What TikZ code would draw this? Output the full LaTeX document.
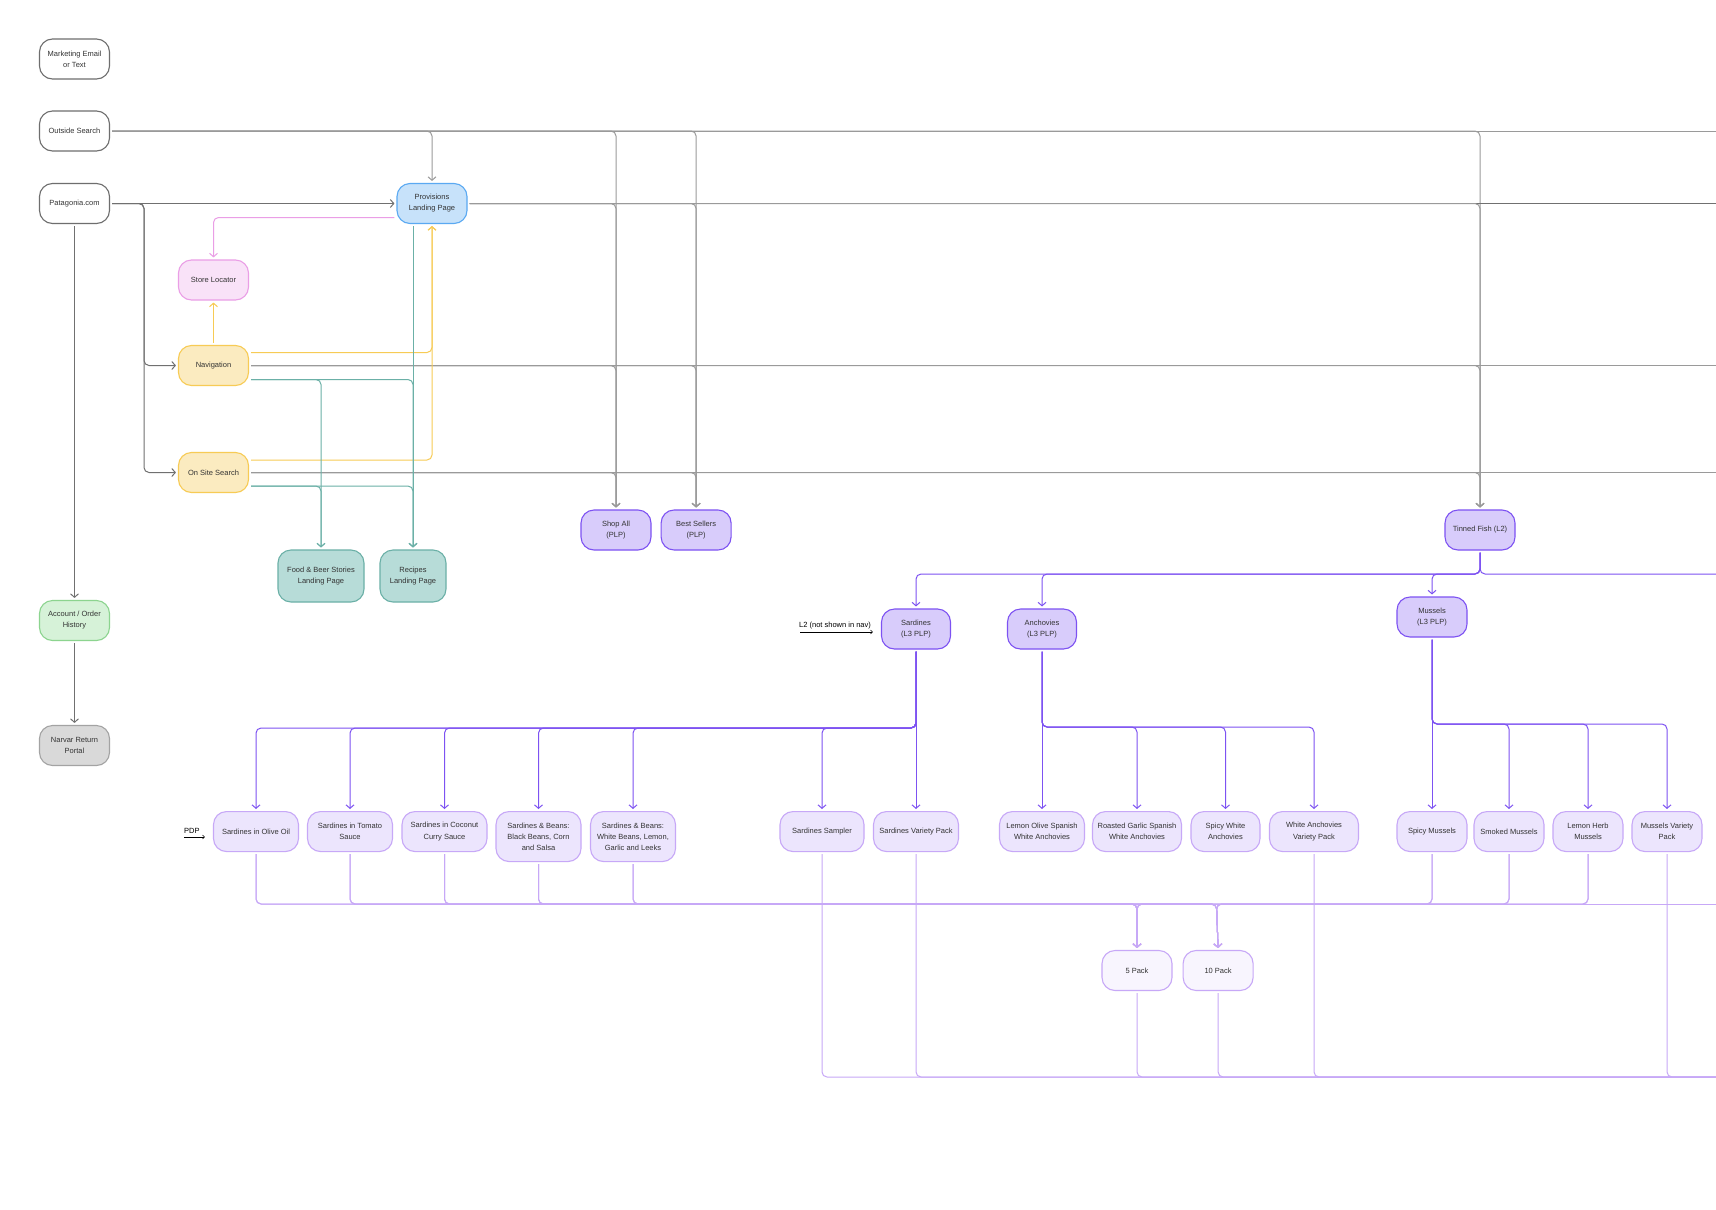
\documentclass[tikz,border=0pt]{standalone}
\usepackage{fontspec}
\setmainfont{Liberation Sans}
\usepackage{tikz}
\usetikzlibrary{positioning, arrows.meta}
\usepackage{xcolor}

\definecolor{ink}{HTML}{333333}
\definecolor{entryline}{HTML}{6E6E6E}
\definecolor{bluefill}{HTML}{C7E2FA}
\definecolor{blueline}{HTML}{5AA9F2}
\definecolor{pinkfill}{HTML}{F9E2F8}
\definecolor{pinkline}{HTML}{EA9EE6}
\definecolor{yelfill}{HTML}{FBEBC0}
\definecolor{yelline}{HTML}{F7CB55}
\definecolor{tealfill}{HTML}{B7DCD8}
\definecolor{tealline}{HTML}{6BB0A7}
\definecolor{greenfill}{HTML}{D6F2D8}
\definecolor{greenline}{HTML}{8CD48F}
\definecolor{greyfill}{HTML}{D9D9D9}
\definecolor{greyline}{HTML}{A3A3A3}
\definecolor{plpfill}{HTML}{D8CCFB}
\definecolor{plpline}{HTML}{7D52F2}
\definecolor{pdpfill}{HTML}{ECE5FD}
\definecolor{pdpline}{HTML}{C7A8F7}
\definecolor{packfill}{HTML}{F8F5FE}
\definecolor{wireg}{HTML}{9A9A9A}
\definecolor{wired}{HTML}{707070}

\begin{document}
\begin{tikzpicture}[
  x=1pt, y=-1pt,
  box/.style={draw, rounded corners=13pt, align=center, minimum width=70pt, minimum height=40pt,
    line width=1.1pt, text=ink, inner sep=2pt, font=\fontsize{7.5}{11}\selectfont},
  entry/.style={box, draw=entryline, fill=white},
  landing/.style={box, draw=blueline, fill=bluefill},
  locator/.style={box, draw=pinkline, fill=pinkfill},
  menu/.style={box, draw=yelline, fill=yelfill},
  story/.style={box, draw=tealline, fill=tealfill, minimum height=52pt},
  account/.style={box, draw=greenline, fill=greenfill},
  returns/.style={box, draw=greyline, fill=greyfill},
  plp/.style={box, draw=plpline, fill=plpfill},
  pdp/.style={box, draw=pdpline, fill=pdpfill, anchor=north, minimum width=85pt},
  pack/.style={box, draw=pdpline, fill=packfill},
  note/.style={text=black, inner sep=0pt, font=\fontsize{7.5}{9}\selectfont},
  link/.style={line width=1pt, rounded corners=5pt, shorten <=2pt},
  arrow/.style={link, -{Straight Barb[length=3.5pt, width=8pt]}, shorten >=2pt},
  gline/.style={link, draw=wireg},
  garrow/.style={arrow, draw=wireg},
  darrow/.style={arrow, draw=wired},
  yarrow/.style={arrow, draw=yelline},
  pkarrow/.style={arrow, draw=pinkline},
  tarrow/.style={arrow, draw=tealline},
  plink/.style={link, draw=plpline},
  parrow/.style={arrow, draw=plpline},
  llink/.style={link, draw=pdpline},
  larrow/.style={arrow, draw=pdpline},
  notearrow/.style={line width=0.6pt, draw=black, -{Straight Barb[length=2pt, width=4pt]}, shorten >=8pt}
]
\fill[white] (0,0) rectangle (1716,1210);
\useasboundingbox (0,0) rectangle (1716,1210);

% entry points
\node[entry] (mkt) at (74.5,59) {Marketing Email\\or Text};
\node[entry] (outside) at (74.5,131) {Outside Search};
\node[entry] (pata) at (74.5,203.5) {Patagonia.com};
\node[account] (acct) at (74.5,620.5) {Account / Order\\History};
\node[returns] (narvar) at (74.5,745.5) {Narvar Return\\Portal};

% provisions level
\node[landing] (prov) at (432,203.5) {Provisions\\Landing Page};
\node[locator] (store) at (213.5,280) {Store Locator};
\node[menu] (nav) at (213.5,365.5) {Navigation};
\node[menu] (search) at (213.5,472.5) {On Site Search};
\node[story, minimum width=86pt] (food) at (321,576) {Food \& Beer Stories\\Landing Page};
\node[story, minimum width=66pt] (recipes) at (413,576) {Recipes\\Landing Page};

% PLP
\node[plp] (shopall) at (616,530) {Shop All\\(PLP)};
\node[plp, right=9pt of shopall] (bestsel) {Best Sellers\\(PLP)};
\node[plp] (tinned) at (1480,530) {Tinned Fish (L2)};
\node[plp, minimum width=69pt] (sard) at (916,629) {Sardines\\(L3 PLP)};
\node[plp, minimum width=69pt] (anch) at (1042,629) {Anchovies\\(L3 PLP)};
\node[plp] (muss) at (1432,617) {Mussels\\(L3 PLP)};

% PDP
\node[pdp] (olive) at (256,811) {Sardines in Olive Oil};
\node[pdp] (tomato) at (350,811) {Sardines in Tomato\\Sauce};
\node[pdp] (coconut) at (444.5,811) {Sardines in Coconut\\Curry Sauce};
\node[pdp, minimum height=50pt] (blackb) at (538.5,811) {Sardines \& Beans:\\Black Beans, Corn\\and Salsa};
\node[pdp, minimum height=50pt] (whiteb) at (633,811) {Sardines \& Beans:\\White Beans, Lemon,\\Garlic and Leeks};
\node[pdp, minimum width=84pt] (sampler) at (822,811) {Sardines Sampler};
\node[pdp] (svp) at (916,811) {Sardines Variety Pack};
\node[pdp] (lemon) at (1042,811) {Lemon Olive Spanish\\White Anchovies};
\node[pdp, minimum width=89pt] (garlic) at (1137,811) {Roasted Garlic Spanish\\White Anchovies};
\node[pdp, minimum width=69pt] (spicyw) at (1225.5,811) {Spicy White\\Anchovies};
\node[pdp, minimum width=89pt] (wavp) at (1314,811) {White Anchovies\\Variety Pack};
\node[pdp, minimum width=70pt] (spicym) at (1432,811) {Spicy Mussels};
\node[pdp, minimum width=70pt] (smoked) at (1509,811) {Smoked Mussels};
\node[pdp, minimum width=70pt] (lemonh) at (1588,811) {Lemon Herb\\Mussels};
\node[pdp, minimum width=70pt] (mvp) at (1667,811) {Mussels Variety\\Pack};
\node[pack] (five) at (1137,970.5) {5 Pack};
\node[pack, right=10pt of five] (ten) {10 Pack};

% side notes
\node[note, anchor=west] (l2note) at (799,625.5) {L2 (not shown in nav)};
\node[note, anchor=west] (pdpnote) at (184,830.5) {PDP};
\coordinate (l2tail) at (800,632);
\coordinate (pdptail) at (184,837);

% bends and edge ends
\coordinate (pataSplit) at (144,203.5);
\coordinate (tfBus) at (1480,574);
\coordinate (sardBus) at (916,728);
\coordinate (anchBus) at (1042,727);
\coordinate (mussBus) at (1432,724);
\coordinate (fiveBus) at (1137,904);
\coordinate (tenBus) at (1216.5,904);
\coordinate (osEdge) at (1716,131);
\coordinate (provEdge) at (1716,203.5);
\coordinate (navEdge) at (1716,365.5);
\coordinate (searchEdge) at (1716,472.5);
\coordinate (tfEdge) at (1716,574);
\coordinate (packEdge) at (1716,904);
\coordinate (setEdge) at (1716,1077);

% grey links
\draw[gline] (outside.east) -- (osEdge);
\foreach \t in {prov, shopall, bestsel, tinned}
  \draw[garrow] (outside.east) -| (\t.north);
\draw[darrow] (pata.east) -- (prov.west);
\draw[darrow] (pata.east) -- (pataSplit) |- (nav.west);
\draw[darrow] (pata.east) -- (pataSplit) |- (search.west);
\draw[darrow] (pata.south) -- (acct.north);
\draw[darrow] (acct.south) -- (narvar.north);
\draw[gline, draw=wired] (prov.east) -- (provEdge);
\draw[gline] (nav.east) -- (navEdge);
\draw[gline] (search.east) -- (searchEdge);
\foreach \s in {prov, nav, search}
  \foreach \t in {shopall, bestsel, tinned}
    \draw[garrow] (\s.east) -| (\t.north);

% coloured links
\draw[yarrow] (nav.north) -- (store.south);
\draw[yarrow] ([yshift=13pt]nav.east) -| (prov.south);
\draw[yarrow] ([yshift=12.5pt]search.east) -| (prov.south);
\draw[pkarrow] ([yshift=-14pt]prov.west) -| (store.north);
\draw[tarrow] (recipes.north |- prov.south) -- (recipes.north);
\foreach \t in {food, recipes} {
  \draw[tarrow] ([yshift=-14pt]nav.east) -| (\t.north);
  \draw[tarrow] ([yshift=-13.5pt]search.east) -| (\t.north);
}

% tinned fish tree
\draw[plink] (tinned.south) -- (tfBus) -- (tfEdge);
\foreach \t in {sard, anch, muss}
  \draw[parrow] (tinned.south) -- (tfBus) -| (\t.north);
\draw[parrow] (sard.south) -- (svp.north);
\foreach \t in {olive, tomato, coconut, blackb, whiteb, sampler}
  \draw[parrow] (sard.south) -- (sardBus) -| (\t.north);
\draw[parrow] (anch.south) -- (lemon.north);
\foreach \t in {garlic, spicyw, wavp}
  \draw[parrow] (anch.south) -- (anchBus) -| (\t.north);
\draw[parrow] (muss.south) -- (spicym.north);
\foreach \t in {smoked, lemonh, mvp}
  \draw[parrow] (muss.south) -- (mussBus) -| (\t.north);

% packs
\foreach \s in {olive, tomato, coconut, blackb, whiteb, spicym, smoked, lemonh} {
  \draw[larrow] (\s.south) |- (fiveBus) -- (five.north);
  \draw[larrow] (\s.south) |- (tenBus) -- (ten.north);
}
\draw[llink] (tenBus) -- (packEdge);
\foreach \s in {sampler, svp, five, ten, wavp, mvp}
  \draw[llink] (\s.south) |- (setEdge);

% notes
\draw[notearrow] (l2tail) -- (l2tail -| sard.west);
\draw[notearrow] (pdptail) -- (pdptail -| olive.west);
\end{tikzpicture}
\end{document}
